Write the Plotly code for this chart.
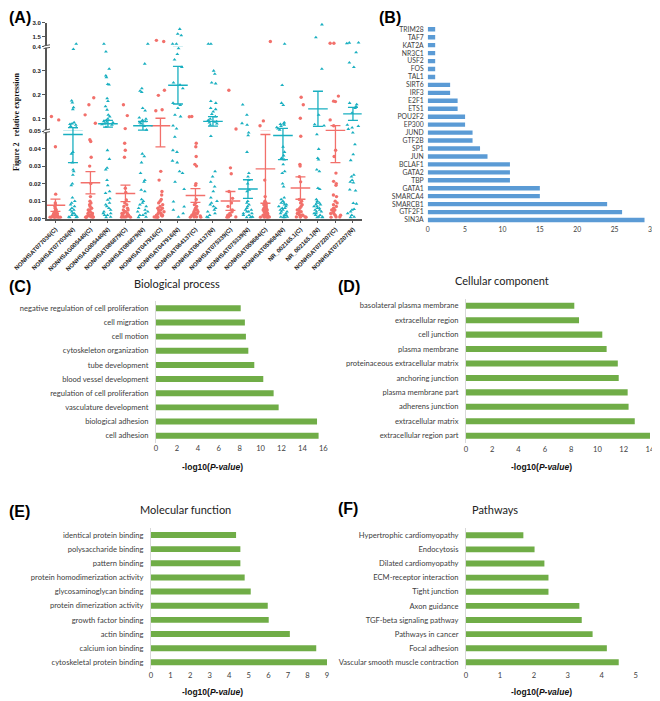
import plotly.graph_objects as go

W, H = 660, 701
PAGE_PAD = 8  # browser body margin around the plot div

# ---------------- (A) relative expression ----------------
genes_a = ["NONHSAT077036(C)", "NONHSAT077036(N)", "NONHSAG005440(C)", "NONHSAG005440(N)",
           "NONHSAT086879(C)", "NONHSAT086879(N)", "NONHSAT047916(C)", "NONHSAT047916(N)",
           "NONHSAT064137(C)", "NONHSAT064137(N)", "NONHSAT075339(C)", "NONHSAT075339(N)",
           "NONHSAT059684(C)", "NONHSAT059684(N)", "NR_002165.1(C)", "NR_002165.1(N)",
           "NONHSAT072207(C)", "NONHSAT072207(N)"]

c01 = [0.110, 0.096, 0.041, 0.014, 0.009, 0.008, 0.007, 0.006, 0.005, 0.005, 0.004, 0.004, 0.003,
       0.003, 0.003, 0.002, 0.002, 0.002, 0.002, 0.0015, 0.0015, 0.001, 0.001, 0.001, 0.001, 0.0008,
       0.0008, 0.0008, 0.0008, 0.0008]
n02 = [0.71, 0.39, 0.176, 0.168, 0.148, 0.140, 0.085, 0.080, 0.078, 0.075, 0.070, 0.065, 0.038, 0.037,
       0.032, 0.028, 0.027, 0.025, 0.020, 0.019, 0.012, 0.010, 0.009, 0.008, 0.007, 0.006, 0.005, 0.005,
       0.004, 0.003, 0.003, 0.002, 0.002, 0.001, 0.001, 0.0008, 0.0008]
c03 = [0.188, 0.159, 0.117, 0.082, 0.045, 0.044, 0.035, 0.030, 0.020, 0.0126, 0.010, 0.009, 0.008,
       0.007, 0.006, 0.005, 0.005, 0.004, 0.004, 0.003, 0.003, 0.003, 0.002, 0.002, 0.002, 0.0015,
       0.001, 0.001, 0.001, 0.0008, 0.0008, 0.0008]
n04 = [0.70, 0.379, 0.308, 0.280, 0.273, 0.244, 0.242, 0.185, 0.174, 0.152, 0.138, 0.117, 0.110,
       0.100, 0.095, 0.090, 0.088, 0.085, 0.080, 0.077, 0.075, 0.067, 0.039, 0.034, 0.029, 0.028,
       0.022, 0.019, 0.0155, 0.0145, 0.0116, 0.0107, 0.009, 0.008, 0.007, 0.006, 0.005, 0.004, 0.003,
       0.003, 0.002, 0.002, 0.001, 0.0008]
c05 = [0.159, 0.114, 0.060, 0.043, 0.039, 0.035, 0.0174, 0.015, 0.0107, 0.009, 0.008, 0.007, 0.006,
       0.005, 0.005, 0.004, 0.004, 0.003, 0.003, 0.003, 0.002, 0.002, 0.002, 0.0015, 0.001, 0.001,
       0.001, 0.0008, 0.0008]
n06 = [0.70, 0.329, 0.227, 0.216, 0.211, 0.145, 0.134, 0.105, 0.100, 0.095, 0.090, 0.085, 0.080,
       0.070, 0.055, 0.037, 0.0355, 0.032, 0.026, 0.022, 0.021, 0.0164, 0.0155, 0.011, 0.010, 0.009,
       0.008, 0.007, 0.006, 0.005, 0.004, 0.004, 0.003, 0.002, 0.002, 0.001, 0.0008]
c07 = [1.09, 0.97, 0.219, 0.198, 0.138, 0.134, 0.027, 0.022, 0.0155, 0.0135, 0.011, 0.010, 0.009,
       0.008, 0.007, 0.006, 0.006, 0.005, 0.005, 0.004, 0.004, 0.003, 0.003, 0.002, 0.002, 0.002,
       0.0015, 0.001, 0.001, 0.0008, 0.0008]
n08 = [2.31, 1.78, 1.62, 0.71, 0.70, 0.393, 0.369, 0.346, 0.315, 0.251, 0.241, 0.227, 0.166, 0.157,
       0.145, 0.117, 0.110, 0.072, 0.060, 0.0466, 0.039, 0.038, 0.033, 0.032, 0.027, 0.026, 0.021,
       0.0168, 0.0097, 0.0069, 0.005, 0.003, 0.001]
c09 = [0.110, 0.109, 0.043, 0.041, 0.0355, 0.031, 0.030, 0.020, 0.019, 0.011, 0.009, 0.008, 0.007,
       0.006, 0.005, 0.005, 0.004, 0.004, 0.003, 0.003, 0.003, 0.002, 0.002, 0.002, 0.0015, 0.001,
       0.001, 0.0008, 0.0008]
n10 = [0.71, 0.70, 0.300, 0.287, 0.251, 0.247, 0.174, 0.166, 0.145, 0.140, 0.130, 0.120, 0.110, 0.100,
       0.095, 0.090, 0.088, 0.085, 0.080, 0.075, 0.047, 0.027, 0.024, 0.021, 0.0183, 0.0155, 0.012,
       0.010, 0.009, 0.008, 0.007, 0.006, 0.005, 0.004, 0.003, 0.002, 0.001, 0.0008]
c11 = [0.219, 0.058, 0.029, 0.0256, 0.0155, 0.0116, 0.009, 0.007, 0.005, 0.004, 0.003, 0.002, 0.002,
       0.001, 0.001, 0.0008]
n12 = [0.159, 0.117, 0.082, 0.075, 0.049, 0.0475, 0.038, 0.026, 0.024, 0.022, 0.020, 0.0164, 0.0155,
       0.010, 0.009, 0.008, 0.007, 0.006, 0.005, 0.005, 0.004, 0.004, 0.003, 0.003, 0.002, 0.002,
       0.001, 0.001, 0.0008, 0.0008]
c13 = [0.97, 0.092, 0.072, 0.022, 0.0126, 0.010, 0.009, 0.009, 0.008, 0.008, 0.007, 0.007, 0.006,
       0.006, 0.006, 0.005, 0.005, 0.005, 0.004, 0.004, 0.004, 0.003, 0.003, 0.003, 0.003, 0.002,
       0.002, 0.002, 0.002, 0.0015, 0.0015, 0.001, 0.001, 0.001, 0.0008, 0.0008, 0.0008]
n14 = [0.71, 0.240, 0.166, 0.157, 0.085, 0.080, 0.078, 0.075, 0.070, 0.065, 0.060, 0.055, 0.041,
       0.038, 0.036, 0.0345, 0.0336, 0.031, 0.027, 0.026, 0.020, 0.0183, 0.012, 0.011, 0.010, 0.009,
       0.009, 0.008, 0.008, 0.007, 0.007, 0.006, 0.006, 0.005, 0.005, 0.004, 0.004, 0.003, 0.003,
       0.002, 0.002, 0.001, 0.001, 0.0008, 0.0008]
c15 = [0.190, 0.159, 0.103, 0.047, 0.031, 0.030, 0.024, 0.021, 0.011, 0.010, 0.009, 0.008, 0.007,
       0.006, 0.005, 0.005, 0.004, 0.004, 0.003, 0.003, 0.002, 0.002, 0.002, 0.001, 0.001, 0.0008,
       0.0008]
n16 = [2.80, 1.40, 0.308, 0.117, 0.077, 0.072, 0.048, 0.0397, 0.0345, 0.0336, 0.028, 0.027, 0.0174,
       0.0168, 0.011, 0.010, 0.009, 0.009, 0.008, 0.008, 0.007, 0.007, 0.006, 0.006, 0.005, 0.005,
       0.004, 0.004, 0.003, 0.003, 0.002, 0.002, 0.001, 0.001, 0.0008, 0.0008]
c17 = [0.78, 0.77, 0.195, 0.174, 0.172, 0.096, 0.072, 0.039, 0.0355, 0.026, 0.0213, 0.020, 0.019,
       0.0135, 0.0126, 0.010, 0.009, 0.008, 0.007, 0.006, 0.005, 0.005, 0.004, 0.003, 0.003, 0.002,
       0.002, 0.001, 0.001, 0.0008]
n18 = [0.83, 0.82, 0.75, 0.376, 0.334, 0.315, 0.166, 0.160, 0.152, 0.145, 0.125, 0.075, 0.070, 0.064,
       0.058, 0.049, 0.0424, 0.0366, 0.0333, 0.025, 0.024, 0.022, 0.021, 0.0205, 0.0165, 0.016,
       0.0088, 0.0085, 0.0054, 0.005, 0.004, 0.003, 0.002, 0.001, 0.0008]

expr_a = [c01, n02, c03, n04, c05, n06, c07, n08, c09, n10, c11, n12, c13, n14, c15, n16, c17, n18]

# mean and SEM
mean_a = [0.0077, 0.048, 0.0205, 0.080, 0.0144, 0.072, 0.072, 0.240, 0.0132, 0.090,
          0.0101, 0.0169, 0.0284, 0.0474, 0.0175, 0.142, 0.052, 0.121]
sem_a = [0.0035, 0.016, 0.0063, 0.014, 0.0047, 0.018, 0.031, 0.078, 0.0039, 0.020,
         0.0054, 0.0053, 0.0196, 0.0137, 0.0064, 0.073, 0.020, 0.027]

# ---------------- (B) transcription factors ----------------
tf_names = ["TRIM28", "TAF7", "KAT2A", "NR3C1", "USF2", "FOS", "TAL1", "SIRT6", "IRF3", "E2F1",
            "ETS1", "POU2F2", "EP300", "JUND", "GTF2B", "SP1", "JUN", "BCLAF1", "GATA2", "TBP",
            "GATA1", "SMARCA4", "SMARCB1", "GTF2F1", "SIN3A"]
tf_counts = [1, 1, 1, 1, 1, 1, 1, 3, 3, 4, 4, 5, 5, 6, 6, 7, 8, 11, 11, 11, 15, 15, 24, 26, 29]

# ---------------- (C)-(F) enrichment ----------------
bp_terms = ["negative regulation of cell proliferation", "cell migration", "cell motion",
            "cytoskeleton organization", "tube development", "blood vessel development",
            "regulation of cell proliferation", "vasculature development", "biological adhesion",
            "cell adhesion"]
bp_values = [8.1, 8.5, 8.6, 8.83, 9.4, 10.26, 11.25, 11.73, 15.4, 15.55]

cc_terms = ["basolateral plasma membrane", "extracellular region", "cell junction", "plasma membrane",
            "proteinaceous extracellular matrix", "anchoring junction", "plasma membrane part",
            "adherens junction", "extracellular matrix", "extracellular region part"]
cc_values = [8.24, 8.6, 10.37, 10.7, 11.55, 11.62, 12.3, 12.37, 12.84, 14.03]

mf_terms = ["identical protein binding", "polysaccharide binding", "pattern binding",
            "protein homodimerization activity", "glycosaminoglycan binding",
            "protein dimerization activity", "growth factor binding", "actin binding",
            "calcium ion binding", "cytoskeletal protein binding"]
mf_values = [4.35, 4.57, 4.57, 4.79, 5.1, 5.97, 6.02, 7.1, 8.45, 9.05]

kegg_terms = ["Hypertrophic cardiomyopathy", "Endocytosis", "Dilated cardiomyopathy",
              "ECM-receptor interaction", "Tight junction", "Axon guidance",
              "TGF-beta signaling pathway", "Pathways in cancer", "Focal adhesion",
              "Vascular smooth muscle contraction"]
kegg_values = [1.69, 2.02, 2.31, 2.43, 2.43, 3.34, 3.41, 3.73, 4.15, 4.5]

RED = "#F2706B"
TEAL = "#19AFC0"
GREEN = "#70AD47"
BLUE = "#5B9BD5"
LABEL_FONT = "Lato"


# window pixel -> paper fraction (the div sits PAGE_PAD px inside the window)
def fx(px):
    return (px - PAGE_PAD) / W


def fy(py):
    return 1 - (py - PAGE_PAD) / H


fig = go.Figure()

# panel A: points split over the three broken-axis segments
segments = [("y", 0.0, 0.05), ("y2", 0.05, 0.4), ("y3", 0.4, 10.0)]
for start, color, symbol in [(0, RED, "circle"), (1, TEAL, "triangle-up")]:
    cats = genes_a[start::2]
    vals = expr_a[start::2]
    for yref, lo, hi in segments:
        xs, ys = [], []
        for cat, values in zip(cats, vals):
            for v in values:
                if (lo < v <= hi) or (lo == 0 and v <= hi):
                    xs.append(cat)
                    ys.append(v)
        fig.add_trace(go.Box(
            x=xs, y=ys, xaxis="x", yaxis=yref, boxpoints="all", jitter=0.9, pointpos=0,
            width=0.8, fillcolor="rgba(0,0,0,0)", line=dict(width=0, color="rgba(0,0,0,0)"),
            marker=dict(color=color, symbol=symbol, size=3.4), hoverinfo="skip"))
    for yref, lo, hi in segments:
        fig.add_trace(go.Scatter(
            x=cats, y=mean_a[start::2], xaxis="x", yaxis=yref, mode="markers",
            marker=dict(symbol="line-ew", size=14, color=color, line=dict(color=color, width=1.4)),
            error_y=dict(type="data", array=sem_a[start::2], color=color, thickness=1.3, width=5)))

# panel B
fig.add_trace(go.Bar(x=tf_counts, y=tf_names, orientation="h", xaxis="x2", yaxis="y4",
                     marker=dict(color=BLUE, line=dict(width=0)), width=0.55))

# panels C-F
for terms, values, xr, yr in [(bp_terms, bp_values, "x3", "y5"), (cc_terms, cc_values, "x4", "y6"),
                              (mf_terms, mf_values, "x5", "y7"), (kegg_terms, kegg_values, "x6", "y8")]:
    fig.add_trace(go.Bar(x=values, y=terms, orientation="h", xaxis=xr, yaxis=yr,
                         marker=dict(color=GREEN, line=dict(width=0)), width=0.42))

a_tick = dict(family="Liberation Sans", size=6, color="#222", weight="bold")
a_axis = dict(showline=True, linecolor="#555", linewidth=1.5, ticks="outside", ticklen=3,
              tickcolor="#555", tickwidth=1.2, showgrid=False, zeroline=False, tickfont=a_tick,
              automargin=False, ticklabeloverflow="allow")

bar_tick = dict(family=LABEL_FONT, size=7.6, color="#404040")


def bar_axes(xdom, ydom, xrange, dtick, yanchor, xanchor, names):
    xa = dict(domain=[fx(xdom[0]), fx(xdom[1])], anchor=yanchor, range=xrange, dtick=dtick,
              tick0=0, showgrid=False, zeroline=False, showline=False, ticks="", tickfont=bar_tick,
              automargin=False, ticklabeloverflow="allow")
    ya = dict(domain=[fy(ydom[1]), fy(ydom[0])], anchor=xanchor, autorange="reversed",
              tickmode="array", tickvals=names, showgrid=False, zeroline=False, showline=True,
              linecolor="#D9D9D9", linewidth=1, ticks="", tickfont=bar_tick, ticklabelstandoff=5,
              automargin=False, ticklabeloverflow="allow")
    return xa, ya


xb, yb = bar_axes((427.7, 652), (25.3, 224), [0, 30], 5, "y4", "x2", tf_names)
yb["showline"] = False
xb["tickfont"] = dict(family=LABEL_FONT, size=6.8, color="#404040")
yb["tickfont"] = dict(family=LABEL_FONT, size=6.8, color="#404040")
yb["ticklabelstandoff"] = 3
xc, yc = bar_axes((156, 323.3), (301.2, 442.8), [0, 16], 2, "y5", "x3", bp_terms)
xd, yd = bar_axes((466, 650), (298.5, 442.9), [0, 14], 2, "y6", "x4", cc_terms)
xe, ye = bar_axes((151, 327), (527.9, 669.4), [0, 9], 1, "y7", "x5", mf_terms)
xf, yf = bar_axes((466, 635.7), (528.2, 669.4), [0, 5], 1, "y8", "x6", kegg_terms)

fig.update_layout(
    width=W, height=H, margin=dict(l=0, r=0, t=0, b=0, autoexpand=False),
    paper_bgcolor="white", plot_bgcolor="white", showlegend=False, boxmode="overlay",
    xaxis=dict(a_axis, domain=[fx(46.7), fx(361.7)], anchor="y", type="category",
               categoryorder="array", categoryarray=genes_a, range=[-0.5, 17.5], tickangle=-45),
    yaxis=dict(a_axis, domain=[fy(218.7), fy(131)], anchor="x", range=[0, 0.05],
               tickvals=[0, 0.01, 0.02, 0.03, 0.04, 0.05],
               ticktext=["0.00", "0.01", "0.02", "0.03", "0.04", "0.05"]),
    yaxis2=dict(a_axis, domain=[fy(131), fy(46.7)], anchor="x", range=[0.05, 0.4],
                tickvals=[0.1, 0.2, 0.3, 0.4], ticktext=["0.1", "0.2", "0.3", "0.4"]),
    yaxis3=dict(a_axis, domain=[fy(46.7), fy(22.7)], anchor="x", range=[0.4, 3.0],
                tickvals=[1.5, 3.0], ticktext=["1.5", "3.0"]),
    xaxis2=xb, yaxis4=yb, xaxis3=xc, yaxis5=yc, xaxis4=xd, yaxis6=yd,
    xaxis5=xe, yaxis7=ye, xaxis6=xf, yaxis8=yf,
)

# axis break marks on panel A
for py in (131, 46.7):
    fig.add_shape(type="rect", xref="paper", yref="paper", x0=fx(44), x1=fx(50),
                  y0=fy(py + 1), y1=fy(py - 1), fillcolor="white", line=dict(width=0))
    for d in (-1.3, 1.3):
        fig.add_shape(type="line", xref="paper", yref="paper", x0=fx(43.5), x1=fx(50),
                      y0=fy(py + d + 0.6), y1=fy(py + d - 0.6), line=dict(color="#555", width=1))

letters = [("(A)", 8, 8), ("(B)", 378, 8), ("(C)", 8, 277), ("(D)", 337, 277),
           ("(E)", 8, 502), ("(F)", 337, 499)]
for text, px, py in letters:
    fig.add_annotation(text=text, x=fx(px), y=fy(py), xref="paper", yref="paper",
                       xanchor="left", yanchor="top", showarrow=False, borderpad=0,
                       font=dict(family="Liberation Sans", size=16, color="black", weight="bold"))

titles = [("Biological process", 177, 283), ("Cellular component", 502, 280),
          ("Molecular function", 185, 510), ("Pathways", 495, 510)]
for text, px, py in titles:
    fig.add_annotation(text=text, x=fx(px), y=fy(py), xref="paper", yref="paper",
                       xanchor="center", yanchor="middle", showarrow=False,
                       font=dict(family=LABEL_FONT, size=11, color="#222"))

for px, py in [(212, 467), (541, 467), (212, 692), (541, 692)]:
    fig.add_annotation(text="-log10(<i>P-value</i>)", x=fx(px), y=fy(py), xref="paper",
                       yref="paper", xanchor="center", yanchor="middle", showarrow=False,
                       font=dict(family="Liberation Sans", size=8.5, color="#111", weight="bold"))

fig.add_annotation(text="Figure 2   relative expression", x=fx(17), y=fy(122), xref="paper",
                   yref="paper", textangle=-90, showarrow=False, xanchor="center", yanchor="middle",
                   font=dict(family="Liberation Serif", size=8, color="#111", weight="bold"))

fig.write_html("out.html")
